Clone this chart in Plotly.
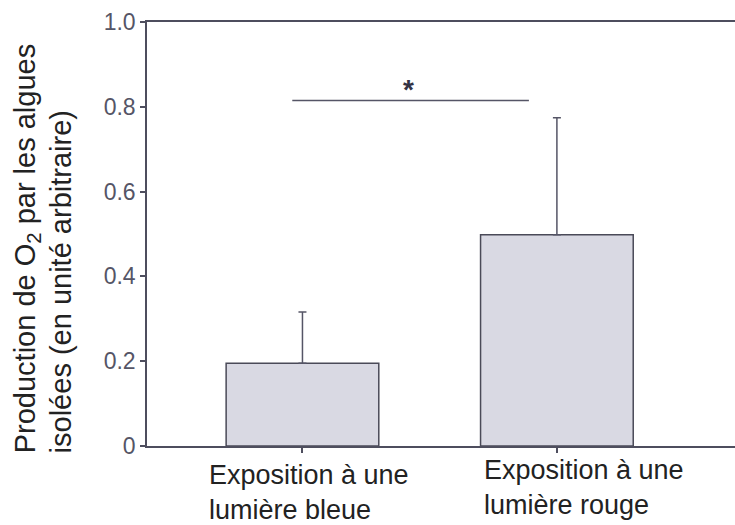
import plotly.graph_objects as go

# Oxygen production by isolated algae under two light exposures
categories = ["Exposition à une<br>lumière bleue", "Exposition à une<br>lumière rouge"]
means = [0.195, 0.498]
errors_up = [0.121, 0.276]
errors_down = [0, 0]

y_tick_vals = [0, 0.2, 0.4, 0.6, 0.8, 1.0]
y_tick_text = ["0", "0.2", "0.4", "0.6", "0.8", "1.0"]

# significance bracket between the two groups
sig_x = [-0.04, 0.89]
sig_y = 0.815
sig_label = "*"

# category label placement (pixel offsets from each tick)
label_dx = [7, 27]
label_dy = [-12, -7]

axis_col = "#4e4e5e"
font_fam = "Liberation Sans, Arial, sans-serif"

x_pos = list(range(len(categories)))

fig = go.Figure()
fig.add_trace(go.Bar(
    x=x_pos, y=means, width=0.6,
    marker=dict(color="#d9d9e3", line=dict(color="#4a4a58", width=1.5)),
    error_y=dict(type="data", symmetric=False, array=errors_up, arrayminus=errors_down,
                 color="#555566", thickness=1.5, width=4),
    showlegend=False,
))

fig.add_shape(type="line", xref="x", yref="y",
              x0=sig_x[0], x1=sig_x[1], y0=sig_y, y1=sig_y,
              line=dict(color="#555566", width=1.5))
fig.add_annotation(x=(sig_x[0] + sig_x[1]) / 2, y=sig_y, xref="x", yref="y",
                   text="<b>" + sig_label + "</b>", showarrow=False, yanchor="bottom",
                   yshift=-7, xshift=-2, font=dict(size=28, color="#333344", family=font_fam))

# category labels under the axis
for xp, lab, dx, dy in zip(x_pos, categories, label_dx, label_dy):
    fig.add_annotation(x=xp, y=0, xref="x", yref="y", text=lab, showarrow=False,
                       xanchor="center", yanchor="top", align="left",
                       xshift=dx, yshift=dy,
                       font=dict(size=27, color="#222222", family=font_fam))

fig.update_layout(
    width=735, height=525,
    margin=dict(l=147, r=0, t=22, b=79),
    paper_bgcolor="white", plot_bgcolor="white",
    font=dict(family=font_fam),
    xaxis=dict(
        range=[-0.611, 1.70], tickvals=x_pos, ticktext=["", ""],
        showline=True, linecolor=axis_col, linewidth=1.5, mirror=True,
        ticks="outside", ticklen=5, tickcolor=axis_col, tickwidth=1.5,
        showgrid=False, zeroline=False,
    ),
    yaxis=dict(
        range=[0, 1.0], tickvals=y_tick_vals, ticktext=y_tick_text,
        showline=True, linecolor=axis_col, linewidth=1.5,
        ticks="outside", ticklen=5, tickcolor=axis_col, tickwidth=1.5,
        tickfont=dict(size=23, color="#555566", family=font_fam),
        showgrid=False, zeroline=False,
    ),
)

# two-line y-axis title, both lines starting at the same height
fig.add_annotation(xref="paper", yref="paper", x=-0.205, y=-0.022, textangle=-90,
                   text="Production de O<sub>2</sub> par les algues", showarrow=False,
                   xanchor="center", yanchor="bottom",
                   font=dict(size=29, color="#222222", family=font_fam))
fig.add_annotation(xref="paper", yref="paper", x=-0.147, y=-0.022, textangle=-90,
                   text="isolées (en unité arbitraire)", showarrow=False,
                   xanchor="center", yanchor="bottom",
                   font=dict(size=29, color="#222222", family=font_fam))

fig.write_html("out.html")
